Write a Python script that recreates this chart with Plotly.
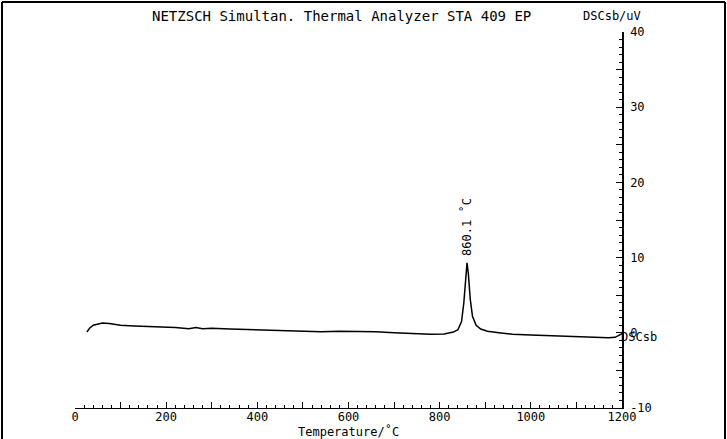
import plotly.graph_objects as go

# ---- data ----
temperature = [26, 32, 40, 50, 60, 75, 100, 130, 160, 190, 220, 250, 265, 280, 300,
               340, 380, 420, 460, 500, 540, 580, 620, 660, 700, 740, 780, 810, 830,
               840, 848, 853, 857, 860, 863, 867, 872, 880, 890, 905, 930, 960, 1000,
               1040, 1080, 1120, 1150, 1170, 1185, 1192, 1200]
dsc = [0.1, 0.6, 1.0, 1.2, 1.3, 1.25, 1.0, 0.9, 0.85, 0.8, 0.7, 0.55, 0.7, 0.55, 0.6,
       0.5, 0.45, 0.3, 0.25, 0.2, 0.15, 0.2, 0.15, 0.15, 0.0, -0.1, -0.2, -0.15, 0.1,
       0.4, 1.5, 4.0, 7.5, 9.3, 7.8, 4.5, 2.2, 1.0, 0.5, 0.2, 0.0, -0.2, -0.3,
       -0.4, -0.45, -0.55, -0.6, -0.65, -0.6, -0.4, -0.1]

x_major = list(range(0, 1201, 100))
x_labels = [str(v) if v % 200 == 0 else "" for v in x_major]
y_major = list(range(-10, 41, 5))
y_labels = [str(v) if v % 10 == 0 else "" for v in y_major]

title_text = "NETZSCH Simultan. Thermal Analyzer STA 409 EP"
y_title = "DSCsb/uV"
x_title = "Temperature/\u02daC"
peak_label = "860.1 \u02daC"
peak_T = 860
peak_val = 9.3

FONT = "DejaVu Sans Mono"
W, H = 727, 439
ML, MR, MT, MB = 75, 105, 32, 31
PW, PH = W - ML - MR, H - MT - MB

def px(x):
    return (x - ML) / PW

def py(y):
    return (H - MB - y) / PH

fig = go.Figure()
fig.add_trace(go.Scatter(x=temperature, y=dsc, mode="lines",
                         line=dict(color="black", width=1.5),
                         hoverinfo="skip"))

fig.update_layout(
    width=W, height=H,
    margin=dict(l=ML, r=MR, t=MT, b=MB),
    paper_bgcolor="white", plot_bgcolor="white",
    showlegend=False,
    font=dict(family=FONT, color="black", size=12),
    xaxis=dict(range=[0, 1200], tickmode="array", tickvals=x_major, ticktext=x_labels,
               ticks="inside", ticklen=6, tickwidth=1, tickcolor="black",
               showline=True, linecolor="black", linewidth=1,
               showgrid=False, zeroline=False, ticklabelstandoff=-2,
               minor=dict(dtick=20, ticks="inside", ticklen=3, tickcolor="black", showgrid=False),
               tickfont=dict(family=FONT, size=12)),
    yaxis=dict(range=[-10, 40], side="right", tickmode="array", tickvals=y_major, ticktext=y_labels,
               ticks="inside", ticklen=6, tickwidth=1, tickcolor="black",
               showline=True, linecolor="black", linewidth=1.5,
               showgrid=False, zeroline=False, ticklabelstandoff=4,
               minor=dict(dtick=1, ticks="inside", ticklen=3, tickcolor="black", showgrid=False),
               tickfont=dict(family=FONT, size=12)),
)

annotations = [
    dict(text=title_text, xref="paper", yref="paper", x=px(341), y=py(16),
         showarrow=False, font=dict(family=FONT, size=14), xanchor="center", yanchor="middle"),
    dict(text=y_title, xref="paper", yref="paper", x=px(612), y=py(16),
         showarrow=False, font=dict(family=FONT, size=12), xanchor="center", yanchor="middle"),
    dict(text=x_title, xref="paper", yref="paper", x=px(348), y=py(431),
         showarrow=False, font=dict(family=FONT, size=12), xanchor="center", yanchor="middle"),
    dict(text="DSCsb", xref="paper", yref="y", x=1.0, y=-0.6, xshift=-3,
         showarrow=False, font=dict(family=FONT, size=12), xanchor="left", yanchor="middle"),
    dict(text=peak_label, x=peak_T, y=peak_val, xref="x", yref="y", textangle=-90,
         showarrow=False, yshift=36, font=dict(family=FONT, size=12),
         xanchor="center", yanchor="middle"),
]
fig.update_layout(annotations=annotations)

frame = dict(color="black", width=2)
shapes = [
    dict(type="line", xref="paper", yref="paper", x0=px(2), x1=px(725), y0=py(2), y1=py(2), line=frame),
    dict(type="line", xref="paper", yref="paper", x0=px(2), x1=px(2), y0=py(2), y1=py(439), line=frame),
    dict(type="line", xref="paper", yref="paper", x0=px(725), x1=px(725), y0=py(2), y1=py(439), line=frame),
]
fig.update_layout(shapes=shapes)

fig.write_html("out.html")
